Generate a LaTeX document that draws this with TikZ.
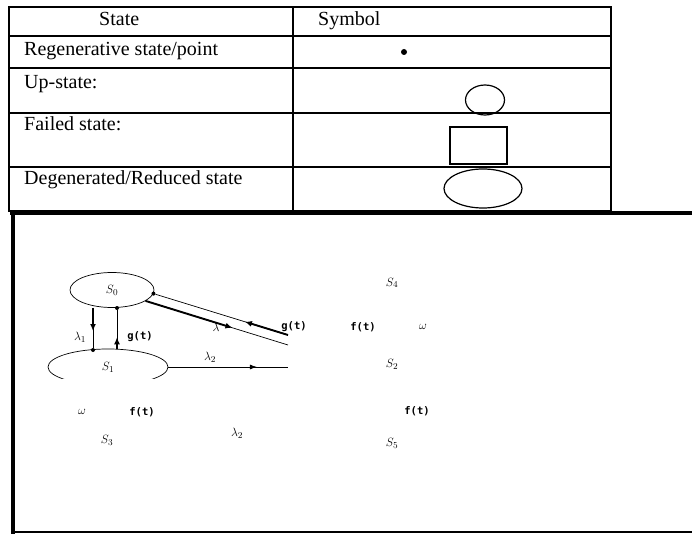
\documentclass[tikz,border=0pt]{standalone}
\usepackage{fontspec}
\setmainfont{Liberation Serif}
\newfontfamily\ratefont{DejaVu Sans Mono}
\usetikzlibrary{arrows.meta,shapes.geometric,calc}

\begin{document}
\begin{tikzpicture}[x=1pt,y=-1pt,
    cell/.style={anchor=base west, font=\fontsize{20}{24}\selectfont, inner sep=0pt},
    rule/.style={line width=1.4pt},
    frame/.style={line width=3.5pt},
    sym/.style={draw, line width=1.2pt, inner sep=0pt},
    state/.style={draw, ellipse, line width=0.7pt, inner sep=0pt, font=\fontsize{13}{15}\selectfont},
    lbl/.style={font=\fontsize{13}{15}\selectfont, inner sep=0pt},
    rate/.style={font=\fontsize{10.5}{12}\selectfont\ratefont\bfseries, inner sep=0pt},
    flow/.style={line width=0.7pt},
    head/.style={line width=1.9pt, -{Latex[length=7pt,width=6pt]}},
    joint/.style={circle, fill, inner sep=0pt, minimum size=4pt}
]
\useasboundingbox (0,0) rectangle (692,534);

% legend table
\draw[rule] (9,7) rectangle (611,211);
\draw[rule] (293,7) -- (293,211);
\foreach \y in {36,68,113,167}
    \draw[rule] (9,\y) -- (611,\y);

\node[cell] (hstate) at (99,26) {State};
\node[cell] (hsymbol) at (318,26) {Symbol};
\node[cell] (regen) at (24,56) {Regenerative state/point};
\node[cell] (up) at (24,89) {Up-state:};
\node[cell] (failed) at (24,131) {Failed state:};
\node[cell] (degen) at (24,185) {Degenerated/Reduced state};

\node[joint, minimum size=6pt] (regensym) at (404,52) {};
\node[sym, ellipse, minimum width=39pt, minimum height=30pt] (upsym) at (485,100) {};
\node[sym, rectangle, minimum width=57pt, minimum height=37pt] (failsym) at (478.5,145.5) {};
\node[sym, ellipse, minimum width=78pt, minimum height=39pt] (degensym) at (483,188.5) {};

% frame of the transition diagram
\draw[frame] (10,213) -- (692,213);
\draw[frame] (13,213) -- (13,534);
\draw[line width=1.5pt] (13,532) -- (692,532);

\begin{scope}
\clip (15,215) rectangle (288,378);
\node[state, minimum width=84pt, minimum height=35pt] (s0) at (112,290) {$S_0$};
\node[state, minimum width=120pt, minimum height=36pt] (s1) at (108,367) {$S_1$};

\node[joint] (d1) at (93,350) {};
\node[joint] (d0) at (117,308) {};
\node[joint] (d0r) at (s0.-5) {};
\coordinate (d0l) at (s0.-18);
\coordinate (e1) at (288,335);
\coordinate (e2) at (288,345);
\coordinate (e3) at (288,367);

% S0 -> S1 and back
\draw[flow] (s0.south -| d1) -- (d1);
\draw[head] (s0.south -| d1) -- ($(s0.south -| d1)!0.55!(d1)$);
\draw[flow] (d0) -- (d0 |- s1.north);
\draw[head] (d0 |- s1.north) -- ($(d0 |- s1.north)!0.28!(d0)$);

% lines leaving to the right
\draw[flow] (d0r) -- (e1);
\draw[head] (e1) -- ($(e1)!0.32!(d0r)$);
\draw[flow] (d0l) -- (e2);
\draw[head] (d0l) -- ($(d0l)!0.61!(e2)$);
\draw[flow] (s1.east) -- (e3);
\draw[flow, -{Latex[length=7pt,width=5pt]}] (s1.east) -- ($(s1.east)!0.74!(e3)$);
\end{scope}

% labels
\node[lbl] (l1) at (80,337) {$\lambda_1$};
\node[rate] (g1) at (140,337) {g(t)};
\node[lbl] (l3) at (216,327) {$\lambda$};
\node[rate] (g2) at (294,327) {g(t)};
\node[lbl] (l2a) at (210,357) {$\lambda_2$};
\node[lbl] (s4) at (392,283) {$S_4$};
\node[rate] (f1) at (363,327) {f(t)};
\node[lbl] (w1) at (423,327) {$\omega$};
\node[lbl] (s2) at (392,364) {$S_2$};
\node[rate] (f2) at (417,411) {f(t)};
\node[lbl] (s5) at (392,443) {$S_5$};
\node[lbl] (w2) at (82,412) {$\omega$};
\node[rate] (f3) at (142,412) {f(t)};
\node[lbl] (s3) at (107,440) {$S_3$};
\node[lbl] (l2b) at (237,433) {$\lambda_2$};

\end{tikzpicture}
\end{document}
